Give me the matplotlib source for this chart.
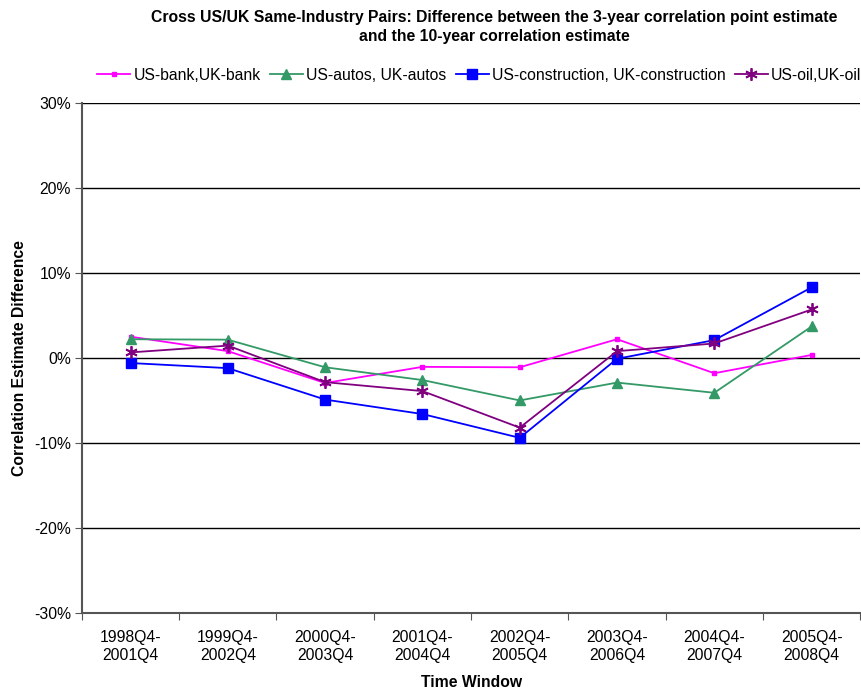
import numpy as np
from matplotlib import pyplot as plt
from matplotlib.ticker import FuncFormatter, FixedLocator

plt.rcParams['font.family'] = ['Liberation Sans', 'DejaVu Sans']
fs = 11.3

windows = ['1998Q4-\n2001Q4', '1999Q4-\n2002Q4', '2000Q4-\n2003Q4', '2001Q4-\n2004Q4',
           '2002Q4-\n2005Q4', '2003Q4-\n2006Q4', '2004Q4-\n2007Q4', '2005Q4-\n2008Q4']

# diferencas em pontos percentuais
bank = [2.5, 0.8, -2.95, -1.05, -1.1, 2.2, -1.8, 0.35]
autos = [2.2, 2.15, -1.1, -2.6, -5.0, -2.9, -4.1, 3.7]
construction = [-0.6, -1.2, -4.9, -6.6, -9.4, -0.1, 2.1, 8.3]
oil = [0.65, 1.45, -2.85, -3.9, -8.2, 0.8, 1.7, 5.7]

x = np.arange(len(windows))

fig = plt.figure(figsize=(8.62, 6.91), dpi=100)
ax = fig.add_axes([0.095, 0.113, 0.903, 0.738])

ax.plot(x, bank, color='#FF00FF', lw=1.3, marker='s', ms=3, label='US-bank,UK-bank')
ax.plot(x, autos, color='#339966', lw=1.3, marker='^', ms=7, label='US-autos, UK-autos')
ax.plot(x, construction, color='#0000FF', lw=1.3, marker='s', ms=7, label='US-construction, UK-construction')
ax.plot(x, oil, color='#800080', lw=1.3, marker=(6, 2, 0), ms=9, mew=1.3, label='US-oil,UK-oil')

ax.set_ylim(-30, 30)
ax.set_yticks(np.arange(-30, 31, 10))
ax.yaxis.set_major_formatter(FuncFormatter(lambda v, p: f'{v:.0f}%'))
ax.yaxis.grid(True, color='black', lw=1)
ax.set_axisbelow(True)

ax.set_xlim(-0.5, 7.5)
ax.xaxis.set_major_locator(FixedLocator(np.arange(-0.5, 8, 1)))
ax.xaxis.set_minor_locator(FixedLocator(x))
ax.set_xticklabels([], minor=False)
ax.set_xticklabels(windows, minor=True)
ax.tick_params(axis='x', which='minor', length=0, labelsize=fs, pad=12)
ax.tick_params(axis='x', which='major', length=5, color='#555555')
ax.tick_params(axis='y', length=5, color='#555555', labelsize=fs, pad=3)
for lbl in ax.get_xticklabels(minor=True):
    lbl.set_linespacing(1.25)

for s in ['top', 'right']:
    ax.spines[s].set_visible(False)
for s in ['left', 'bottom']:
    ax.spines[s].set_color('#555555')
    ax.spines[s].set_linewidth(1.5)

ax.set_xlabel('Time Window', fontsize=fs, fontweight='bold', labelpad=9)
ax.set_ylabel('Correlation Estimate Difference', fontsize=fs, fontweight='bold', labelpad=5)

fig.suptitle('Cross US/UK Same-Industry Pairs: Difference between the 3-year correlation point estimate\n'
             'and the 10-year correlation estimate', fontsize=fs, fontweight='bold',
             x=0.573, y=0.985, linespacing=1.3)

fig.legend(loc='center', bbox_to_anchor=(0.556, 0.891), ncol=4, frameon=False, fontsize=fs,
           handlelength=2.1, handletextpad=0.2, columnspacing=0.6)

plt.savefig('out.png', dpi=100)
